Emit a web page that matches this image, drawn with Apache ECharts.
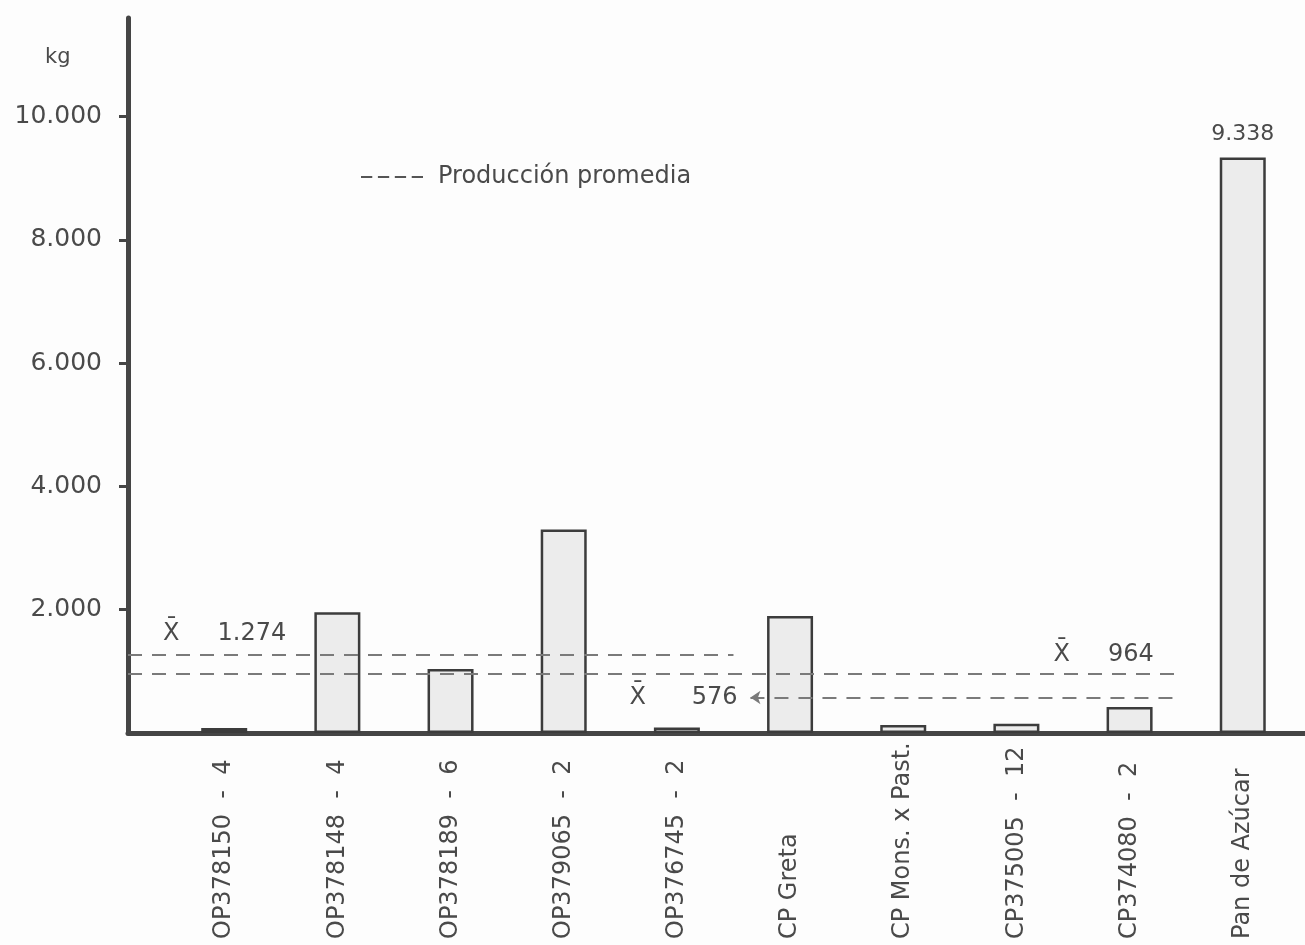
<!DOCTYPE html>
<html>
<head>
<meta charset="utf-8">
<script src="https://cdn.jsdelivr.net/npm/echarts@6/dist/echarts.min.js"></script>
<style>html,body{margin:0;padding:0;background:#fdfdfd;}#c{width:1305px;height:945px;}</style>
</head>
<body>
<div id="c"></div>
<script>
// ---- data ----
var categories = ['OP378150  -  4','OP378148  -  4','OP378189  -  6','OP379065  -  2','OP376745  -  2','CP Greta','CP Mons. x Past.','CP375005  -  12','CP374080  -  2','Pan de Azúcar'];
var production = [80, 1960, 1040, 3300, 90, 1900, 130, 150, 420, 9338];
var labelledIndex = [9];
var yTicks = [2000, 4000, 6000, 8000, 10000];
// average production lines: value, from category position, to category position
var meanValues = [1274, 964, 576];
var meanFrom = [-0.85, -0.85, 4.65];
var meanTo = [4.5, 8.4, 8.4];
var legendName = 'Producción promedia';

function fmt(v){ return String(Math.round(v)).replace(/\B(?=(\d{3})+(?!\d))/g, '.'); }

var FONT = 'DejaVu Sans';
var TXT = '#4a4a4a';
var xIdx = categories.map(function(_, i){ return i; });

var barData = production.map(function(v, i){
  var item = { value: [i, v] };
  if (labelledIndex.indexOf(i) >= 0) {
    item.label = { show: true, position: 'top', distance: 12, formatter: function(p){ return fmt(p.value[1]); },
      fontFamily: FONT, fontSize: 22, color: TXT };
  }
  return item;
});

var XBAR = 'X\u0304';
var meanLabelCfg = [
  { position: 'insideStartTop', padding: [0, 0, 4, 30] },
  { position: 'insideEndTop', padding: [0, 16, 2, 0] },
  { position: 'start', padding: [32, 8, 0, 0] }
];
var markData = meanValues.map(function(v, i){
  return [
    { coord: [meanFrom[i], v], symbol: i === 2 ? 'arrow' : 'none', symbolSize: 10,
      label: Object.assign({ show: true, formatter: XBAR + (i === 2 ? '      ' : '     ') + fmt(v), fontFamily: FONT, fontSize: 24, color: TXT }, meanLabelCfg[i]) },
    { coord: [meanTo[i], v], symbol: 'none' }
  ];
});

var dashIcon = 'path://M0,0h6v1h-6z M9,0h6v1h-6z M18,0h6v1h-6z M27,0h6v1h-6z';

var chart = echarts.init(document.getElementById('c'), null, { renderer: 'canvas' });
chart.setOption({
  backgroundColor: '#fdfdfd',
  animation: false,
  title: { text: 'kg', left: 40, top: 42, textStyle: { fontFamily: FONT, fontSize: 21, fontWeight: 'normal', color: TXT } },
  legend: {
    data: [{ name: legendName, icon: dashIcon }], left: 356, top: 160, itemWidth: 62, itemHeight: 3, itemGap: 10,
    itemStyle: { color: '#555', borderWidth: 0 },
    textStyle: { fontFamily: FONT, fontSize: 24, color: TXT, padding: [0, 0, 0, 10] }
  },
  grid: { left: 128, right: 0, top: 18, bottom: 212 },
  xAxis: {
    type: 'value', min: -0.85, max: 9.55,
    splitLine: { show: false },
    axisLine: { show: true, onZero: true, lineStyle: { color: '#454545', width: 5 } },
    axisTick: { show: false },
    axisLabel: {
      customValues: xIdx,
      formatter: function(v){ return categories[Math.round(v)] || ''; },
      rotate: 90, align: 'left', verticalAlign: 'middle', margin: 206,
      fontFamily: FONT, fontSize: 24, color: TXT
    }
  },
  yAxis: {
    type: 'value', min: 0, max: 11600, interval: 2000,
    splitLine: { show: false },
    axisLine: { show: true, onZero: false, lineStyle: { color: '#454545', width: 5 } },
    axisTick: { show: true, customValues: yTicks, length: 9, lineStyle: { color: '#454545', width: 3 } },
    axisLabel: { customValues: yTicks, formatter: function(v){ return fmt(v); }, margin: 26,
      fontFamily: FONT, fontSize: 25, color: TXT }
  },
  series: [
    {
      type: 'bar', name: 'Producción', barWidth: 46,
      data: barData,
      itemStyle: { color: '#ececec', borderColor: '#3c3c3c', borderWidth: 2.5 },
      markLine: {
        silent: true, animation: false,
        lineStyle: { color: '#7a7a7a', width: 2, type: [14, 10] },
        data: markData
      }
    },
    {
      type: 'line', name: legendName, data: [], symbol: 'none', showSymbol: false,
      lineStyle: { color: '#555', width: 2.5, type: [9, 6] },
      itemStyle: { color: '#555' }
    }
  ]
});
</script>
</body>
</html>
